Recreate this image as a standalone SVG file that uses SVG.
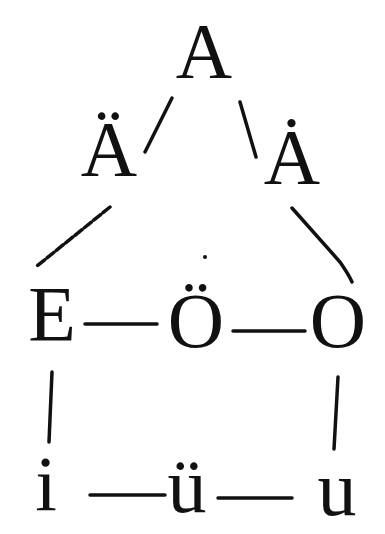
<svg xmlns="http://www.w3.org/2000/svg" width="385" height="534" viewBox="0 0 385 534">
<style>
text{font-family:"Liberation Serif","Times New Roman",serif;font-size:78px;fill:#111;text-anchor:middle}
.c line,.c path{stroke:#111;stroke-width:3.5;fill:none;stroke-linecap:round}
</style>
<rect width="385" height="534" fill="#fff"/>
<g class="c" id="connectors">
<line x1="172" y1="98" x2="145" y2="152"/>
<line x1="240" y1="102" x2="256" y2="157"/>
<line x1="110" y1="207" x2="37" y2="266" stroke-dasharray="9,3"/>
<path d="M292 208 L340 262 Q349 275 352 282"/>
<line x1="85" y1="324" x2="157" y2="324"/>
<line x1="233" y1="331" x2="305" y2="331"/>
<line x1="52" y1="372" x2="49" y2="442"/>
<line x1="338" y1="377" x2="334" y2="449"/>
<line x1="90" y1="495" x2="165" y2="495"/>
<line x1="218" y1="498" x2="292" y2="498"/>
</g>
<g id="nA"><text x="204" y="77">A</text></g>
<g id="nAuml"><text x="109" y="175">Ä</text></g>
<g id="nAdot"><text x="292" y="183">Ȧ</text></g>
<g id="nE"><text x="52" y="340">E</text></g>
<g id="nOuml"><text x="196" y="347">Ö</text><circle cx="205" cy="257" r="2" fill="#111"/></g>
<g id="nO"><text x="338" y="347">O</text></g>
<g id="ni"><text x="46" y="510">i</text></g>
<g id="nuuml"><text x="187" y="512">ü</text></g>
<g id="nu"><text x="337" y="515">u</text></g>
</svg>
